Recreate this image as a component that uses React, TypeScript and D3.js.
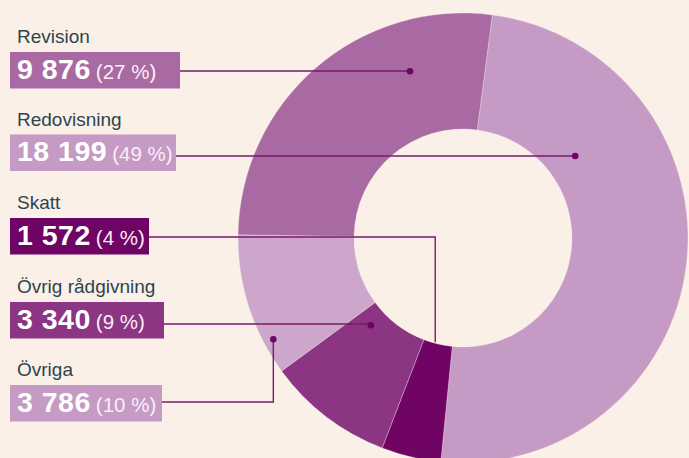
import React, { useEffect, useRef } from 'react';
import * as d3 from 'd3';

const categories = ['Revision', 'Redovisning', 'Skatt', 'Övrig rådgivning', 'Övriga'];
const values = [9876, 18199, 1572, 3340, 3786];
const percentLabels = ['27 %', '49 %', '4 %', '9 %', '10 %'];
const valueLabels = ['9 876', '18 199', '1 572', '3 340', '3 786'];
const sliceColors = ['#a96aa4', '#c59ac4', '#6f0464', '#8c3583', '#cca6cb'];
const boxColors = ['#a96aa4', '#c59ac4', '#6f0464', '#8c3583', '#c59ac4'];

// where the leader dot sits inside each slice (fraction along the slice, radius)
const dotPos = [
  { t: 0.74, r: 175 },
  { t: 0.26, r: 139 },
  { t: 0.6, r: 108 },
  { t: 0.78, r: 127 },
  { t: 0.22, r: 215 },
];

const App = () => {
  const svgRef = useRef<SVGSVGElement>(null);

  useEffect(() => {
    document.body.style.margin = '0';
    document.body.style.background = '#fbf0e8';

    const width = 689;
    const height = 458;
    const cx = 463;
    const cy = 238;
    const outerR = 225;
    const innerR = 109;
    const startDeg = 7.5;

    const svg = d3.select(svgRef.current).attr('width', width).attr('height', height);
    svg.selectAll('*').remove();

    svg.append('rect').attr('width', width).attr('height', height).attr('fill', '#fbf0e8');

    const order = [1, 2, 3, 4, 0]; // clockwise from the top boundary
    const pie = d3
      .pie<number>()
      .sort(null)
      .value((i) => values[i])
      .startAngle((startDeg * Math.PI) / 180)
      .endAngle((startDeg * Math.PI) / 180 + 2 * Math.PI);
    const arcs = pie(order);

    const arc = d3.arc<d3.PieArcDatum<number>>().innerRadius(innerR).outerRadius(outerR);

    const g = svg.append('g').attr('transform', `translate(${cx}, ${cy})`);
    g.selectAll('path')
      .data(arcs)
      .enter()
      .append('path')
      .attr('d', arc)
      .attr('fill', (d) => sliceColors[d.data])
      .attr('stroke', '#fbf0e8')
      .attr('stroke-width', 0.3);

    const lineColor = '#7a1a70';
    const boxTops = [52, 134.5, 218, 302, 385];
    const boxWidths = [170, 166, 139, 154, 152];
    const lineY = [71, 156, 237, 324, 402];

    categories.forEach((name, i) => {
      const top = boxTops[i];
      const lg = svg.append('g');

      lg.append('text')
        .attr('x', 17)
        .attr('y', top - 9)
        .attr('font-family', 'Liberation Sans, Arial, sans-serif')
        .attr('font-size', 19)
        .attr('fill', '#2c4450')
        .text(name);

      lg.append('rect')
        .attr('x', 10)
        .attr('y', top)
        .attr('width', boxWidths[i])
        .attr('height', 36.5)
        .attr('fill', boxColors[i]);

      const txt = lg
        .append('text')
        .attr('x', 17)
        .attr('y', top + 26.5)
        .attr('font-family', 'Liberation Sans, Arial, sans-serif')
        .attr('fill', '#fff');
      txt
        .append('tspan')
        .attr('font-size', 28.5)
        .attr('font-weight', 'bold')
        .attr('letter-spacing', 0.5)
        .text(valueLabels[i]);
      txt
        .append('tspan')
        .attr('font-size', 20.5)
        .attr('fill', '#faeef6')
        .attr('dx', 5)
        .text(`(${percentLabels[i]})`);

      const boxRight = 10 + boxWidths[i];

      const a = arcs.find((d) => d.data === i)!;
      const ang = a.startAngle + (a.endAngle - a.startAngle) * dotPos[i].t;
      const dx = cx + dotPos[i].r * Math.sin(ang);
      const dy = cy - dotPos[i].r * Math.cos(ang);
      const ly = lineY[i];

      const path = d3.path();
      path.moveTo(boxRight, ly);
      path.lineTo(dx, ly);
      path.lineTo(dx, dy);
      svg
        .append('path')
        .attr('d', path.toString())
        .attr('fill', 'none')
        .attr('stroke', lineColor)
        .attr('stroke-width', 1.4);
      if (i !== 2) {
        svg.append('circle').attr('cx', dx).attr('cy', dy).attr('r', 3.3).attr('fill', '#6f0464');
      }
    });
  }, []);

  return <svg ref={svgRef} style={{ display: 'block' }} />;
};

export default App;
